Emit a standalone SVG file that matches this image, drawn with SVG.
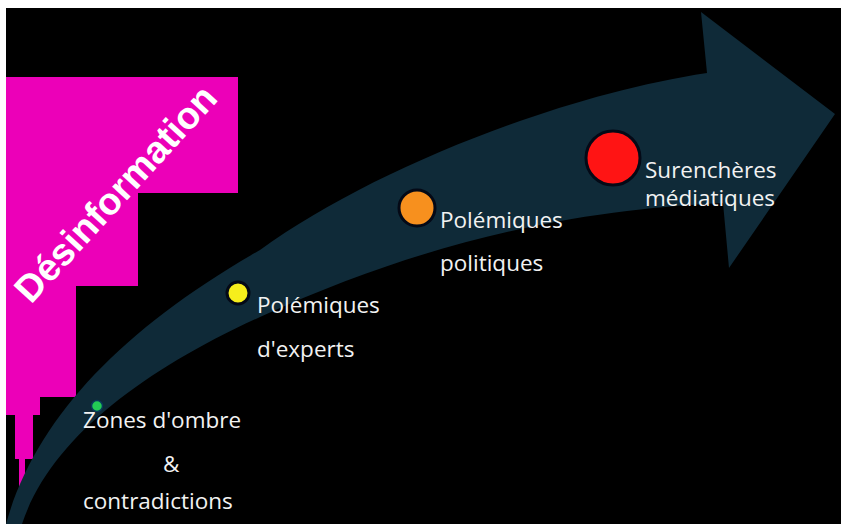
<svg xmlns="http://www.w3.org/2000/svg" width="841" height="524" viewBox="0 0 841 524">
  <style>
    .label { font-family: "Open Sans", "Liberation Sans", sans-serif; font-size: 22.5px; fill: #f2f2f2; }
    .dot-ring { stroke: #040916; stroke-width: 3; }
  </style>

  <!-- page frame and black canvas -->
  <rect x="0" y="0" width="841" height="524" fill="#ffffff"/>
  <rect x="6" y="8" width="835" height="516" fill="#000000"/>

  <!-- stepped magenta column with rotated title -->
  <g id="desinformation">
    <polygon fill="#ec00b8" points="6,77 238,77 238,193 138,193 138,286 76,286 76,397 40,397 40,415 33,415 33,459 25,459 25,506 19,506 19,459 15,459 15,415 6,415"/>
    <text x="31" y="305" transform="rotate(-47.5 31 305)" font-family="'Liberation Sans', Arial, sans-serif" font-weight="bold" font-size="38" fill="#ffffff">Désinformation</text>
  </g>

  <!-- curved progression arrow -->
  <g id="connectors">
    <path id="progress-arrow" fill="#0f2a38"
      d="M 6,524 C 35,420 120,330 260,250 C 370,170 560,95 707,73 L 701,12 L 835,114 L 729,268 L 723,203 C 620,208 460,225 260,317 C 140,372 50,440 22,524 Z"/>
  </g>

  <!-- milestones along the arrow -->
  <g id="zones-ombre">
    <circle cx="97" cy="406" r="5.5" fill="#22cc55" stroke="#0a3a5a" stroke-width="1.5"/>
    <text class="label" x="83" y="428">Zones d'ombre</text>
    <text class="label" x="163" y="472">&amp;</text>
    <text class="label" x="83" y="509">contradictions</text>
  </g>

  <g id="polemiques-experts">
    <circle class="dot-ring" cx="238" cy="293" r="11" fill="#f6ee1c"/>
    <text class="label" x="257" y="313">Polémiques</text>
    <text class="label" x="257" y="357">d'experts</text>
  </g>

  <g id="polemiques-politiques">
    <circle class="dot-ring" cx="417" cy="208" r="18" fill="#f7901e"/>
    <text class="label" x="440" y="228">Polémiques</text>
    <text class="label" x="440" y="271">politiques</text>
  </g>

  <g id="surencheres-mediatiques">
    <circle class="dot-ring" cx="613" cy="158" r="27" fill="#ff1414"/>
    <text class="label" x="645" y="178">Surenchères</text>
    <text class="label" x="645" y="206">médiatiques</text>
  </g>
</svg>
